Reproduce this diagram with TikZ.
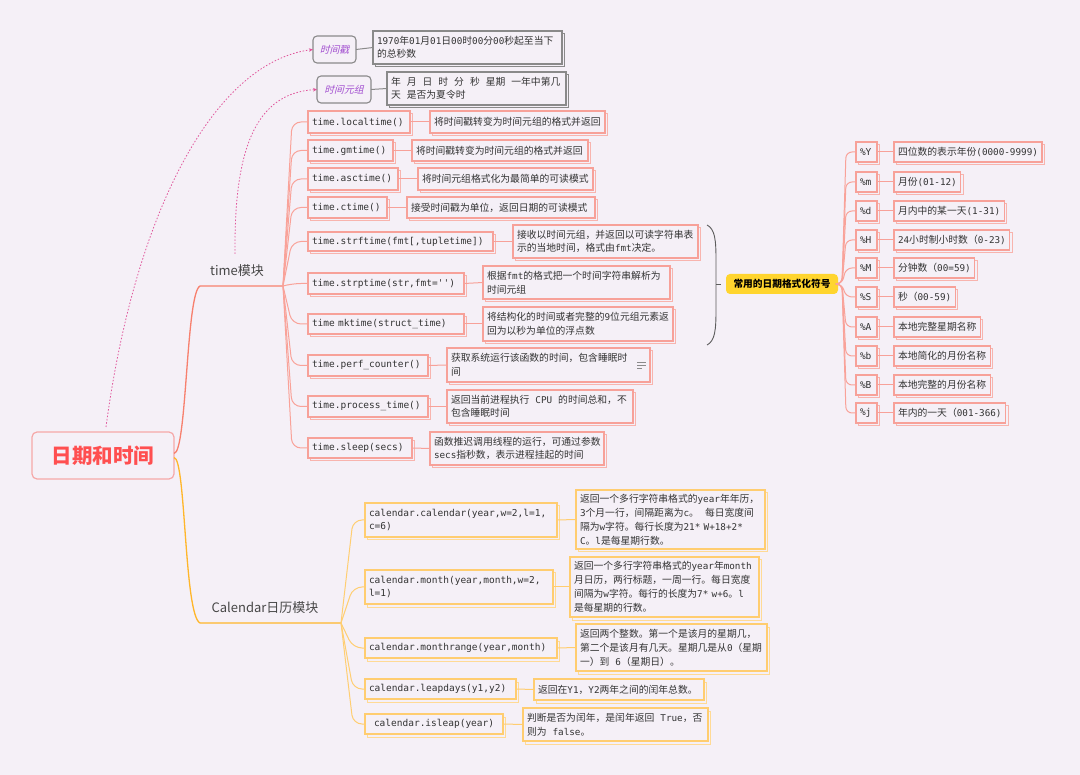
\documentclass[tikz,border=0pt]{standalone}
\usepackage{fontspec}
\setmainfont{Noto Sans CJK SC}
\setmonofont{DejaVu Sans Mono}
\newfontfamily\slantfont[FakeSlant=0.25]{Noto Sans CJK SC}
\usetikzlibrary{arrows.meta}
\definecolor{bg}{HTML}{F5F0F7}
\definecolor{txt}{HTML}{333333}
\definecolor{rline}{HTML}{F7806E}
\definecolor{rfan}{HTML}{F9A299}
\definecolor{rbox}{HTML}{F7A199}
\definecolor{rshad}{HTML}{F8B4AE}
\definecolor{yline}{HTML}{FFB62A}
\definecolor{yfan}{HTML}{FFCE72}
\definecolor{ybox}{HTML}{FFCD70}
\definecolor{yshad}{HTML}{FFDA95}
\definecolor{pinkd}{HTML}{E0559B}
\definecolor{purp}{HTML}{A24FD0}
\definecolor{grayb}{HTML}{8A8A8A}
\definecolor{gold}{HTML}{FFD52E}
\definecolor{mainred}{HTML}{FF4F50}
\definecolor{mainbd}{HTML}{F5A8A8}
\newcommand\mcode[1]{{\ttfamily\fontsize{9.3}{13.5}\selectfont #1}}
\newcommand\gapsp{\kern6pt\relax}
\def\shcol{none}
\def\bdcol{none}
\newcommand\mkshadow[1]{%
  \draw[draw=\shcol,line width=1pt] ([xshift=2.5pt]#1.south west) -- ([shift={(2.5pt,-3pt)}]#1.south west)
     -- ([shift={(2.5pt,-3pt)}]#1.south east) -- ([shift={(2.5pt,-3pt)}]#1.north east) -- ([yshift=-3pt]#1.north east);
  \draw[draw=\bdcol,line width=1.1pt] (#1.south west) rectangle (#1.north east);}
\newcommand\mkbox[7]{%
  \pgfmathsetmacro\mkw{#5-#3}%
  \pgfmathsetmacro\mkh{#6-#4}%
  \pgfmathsetmacro\mkt{#5-#3-8}%
  \pgfmathsetmacro\mky{(#4+#6)/2}%
  \node[anchor=west, minimum width=\mkw pt, minimum height=\mkh pt, text width=\mkt pt,
        inner xsep=4pt, inner ysep=1pt, outer sep=0pt, align=left, #2] (#1) at (#3,\mky) {#7};
  \mkshadow{#1}}
\begin{document}
\begin{tikzpicture}[x=1pt,y=-1pt,
  codebox/.style={fill=bg,text=txt,font=\ttfamily\fontsize{9.5}{13}\selectfont},
  descbox/.style={fill=bg,text=txt,font=\fontsize{9.8}{13.5}\selectfont},
  ccode/.style={fill=bg,text=txt,font=\ttfamily\fontsize{9.5}{13.5}\selectfont},
  cdesc/.style={fill=bg,text=txt,font=\fontsize{9.8}{14}\selectfont},
  fdesc/.style={fill=bg,minimum height=20pt,inner xsep=4pt,inner ysep=1pt,outer sep=0pt,
    text=txt,font=\fontsize{9.8}{13.5}\selectfont},
  tsbox/.style={draw=grayb,fill=bg,rounded corners=4pt,line width=1.1pt,align=center,
    font=\slantfont\fontsize{9.8}{12}\selectfont,text=purp},
  topdesc/.style={fill=bg,text=txt,font=\fontsize{9.8}{13.5}\selectfont},
  mainbox/.style={draw=mainbd,fill=bg,rounded corners=5pt,line width=1.2pt,align=center,
    font=\fontsize{20.5}{24}\selectfont\bfseries,text=mainred},
  fmtbox/.style={fill=gold,draw=none,rounded corners=4pt,align=center,
    font=\fontsize{9.7}{12}\selectfont\bfseries,text=black},
  lab/.style={font=\fontsize{13}{15}\selectfont,text=txt!90},
  rl/.style={draw=rbox,line width=1pt},
  tfanl/.style={draw=rfan,line width=1pt,rounded corners=9pt},
  cfanl/.style={draw=yfan,line width=1pt,rounded corners=9pt},
  yl/.style={draw=ybox,line width=1pt},
  dashl/.style={draw=pinkd,line width=0.8pt,dash pattern=on 1.5pt off 1.8pt,
    -{Stealth[length=4pt,width=3.5pt]}},
]
\fill[bg] (0,0) rectangle (1080,775);
\useasboundingbox (0,0) rectangle (1080,775);

% main node
\mkbox{main}{mainbox}{32}{432}{174}{479}{日期和时间}

% top nodes
\mkbox{tsa}{tsbox}{313}{36}{356}{63}{时间戳}
\mkbox{tup}{tsbox}{317}{76}{371}{103}{时间元组}
\def\shcol{grayb}\def\bdcol{grayb}
\mkbox{tsad}{topdesc}{373}{31}{562}{64}{\mcode{1970}年\mcode{01}月\mcode{01}日\mcode{00}时\mcode{00}分\mcode{00}秒起至当下\\的总秒数}
\mkbox{tupd}{topdesc}{387}{72}{566}{105}{年\gapsp 月\gapsp 日\gapsp 时\gapsp 分\gapsp 秒\gapsp 星期\gapsp 一年中第几\\天\gapsp 是否为夏令时}
\draw[draw=grayb,line width=1pt] (tsa.east) -- (tsad.west);
\draw[draw=grayb,line width=1pt] (tup.east) -- (tupd.west);

% time module
\node[lab] (tlab) at (237,271) {time模块};
\coordinate (tfan) at (283,286);
\draw[draw=rline,line width=1.3pt] ([yshift=2pt]main.east) .. controls (187,453) and (186,293) .. (200,286) -- (tfan);

\def\shcol{rshad}\def\bdcol{rbox}
\mkbox{tl}{codebox}{308}{111}{410}{133}{time.localtime()}
\mkbox{tld}{descbox}{430}{111}{605}{133}{将时间戳转变为时间元组的格式并返回}
\mkbox{tg}{codebox}{308}{140}{393}{161}{time.gmtime()}
\mkbox{tgd}{descbox}{412}{140}{588}{161}{将时间戳转变为时间元组的格式并返回}
\mkbox{ta}{codebox}{308}{168}{398}{190}{time.asctime()}
\mkbox{tad}{descbox}{418}{168}{593}{190}{将时间元组格式化为最简单的可读模式}
\mkbox{tc}{codebox}{308}{197}{387}{218}{time.ctime()}
\mkbox{tcd}{descbox}{407}{197}{595}{218}{接受时间戳为单位，返回日期的可读模式}
\mkbox{tf}{codebox}{308}{232}{493}{251}{time.strftime(fmt[,tupletime])}
\mkbox{tfd}{descbox}{513}{225}{698}{258}{接收以时间元组，并返回以可读字符串表\\示的当地时间，格式由\mcode{fmt}决定。}
\mkbox{tp}{codebox}{308}{273}{464}{294}{time.strptime(str,fmt='')}
\mkbox{tpd}{descbox}{483}{266}{670}{299}{根据\mcode{fmt}的格式把一个时间字符串解析为\\时间元组}
\mkbox{tm}{codebox}{308}{314}{464}{334}{time mktime(struct\_time)}
\mkbox{tmd}{descbox}{483}{307}{673}{341}{将结构化的时间或者完整的\mcode{9}位元组元素返\\回为以秒为单位的浮点数}
\mkbox{tpc}{codebox}{308}{355}{428}{376}{time.perf\_counter()}
\mkbox{tpcd}{descbox}{447}{348}{650}{382}{获取系统运行该函数的时间，包含睡眠时\\间}
\mkbox{tpt}{codebox}{308}{396}{428}{417}{time.process\_time()}
\mkbox{tptd}{descbox}{447}{390}{633}{423}{返回当前进程执行\gapsp\mcode{CPU}\gapsp 的时间总和，不\\包含睡眠时间}
\mkbox{ts}{codebox}{308}{438}{412}{458}{time.sleep(secs)}
\mkbox{tsd}{descbox}{430}{432}{604}{465}{函数推迟调用线程的运行，可通过参数\\\mcode{secs}指秒数，表示进程挂起的时间}

\foreach \n in {tl,tg,ta,tc,tf,tp,tm,tpc,tpt,ts}{
  \draw[tfanl] (tfan) -- ([xshift=-16pt]\n.west) -- (\n.west);
  \draw[rl] (\n.east) -- (\n d.west);
}
% note icon
\draw[draw=grayb,line width=0.8pt] (637,362.5) -- (646,362.5) (637,365.5) -- (646,365.5) (637,368.5) -- (642,368.5);

% dashed relations
\coordinate (tmstart) at (235,254);
\draw[dashl] ([xshift=3pt,yshift=5pt]main.north) .. controls (135,210) and (215,62) .. (tsa.west);
\draw[dashl] (tmstart) .. controls (234,150) and (255,93) .. (tup.west);

% summary brace
\coordinate (bracetip) at (721,284);
\draw[draw=txt!80,line width=0.9pt] (707,225) .. controls (715,229) and (716,240) .. (716,260) -- (716,310) .. controls (716,330) and (715,341) .. (707,345);
\draw[draw=txt!80,line width=0.9pt] (716,284) -- (bracetip);
\def\shcol{none}\def\bdcol{none}
\mkbox{fmt}{fmtbox}{726}{274}{838}{294}{常用的日期格式化符号}

% format codes
\def\shcol{rshad}\def\bdcol{rbox}
\foreach \n/\c/\y/\d in {fY/\%Y/152/{四位数的表示年份\mcode{(0000-9999)}},
                        fm/\%m/182/{月份\mcode{(01-12)}},
                        fd/\%d/211/{月内中的某一天\mcode{(1-31)}},
                        fH/\%H/240/{\mcode{24}小时制小时数（\mcode{0-23)}},
                        fM/\%M/268/{分钟数（\mcode{00=59)}},
                        fS/\%S/297/{秒（\mcode{00-59)}},
                        fA/\%A/327/{本地完整星期名称},
                        fb/\%b/356/{本地简化的月份名称},
                        fB/\%B/385/{本地完整的月份名称},
                        fj/\%j/413/{年内的一天（\mcode{001-366)}}}{
  \pgfmathsetmacro\ya{\y-10}\pgfmathsetmacro\yb{\y+10}
  \mkbox{\n}{codebox}{856}{\ya}{877}{\yb}{\c}
  \node[fdesc,anchor=west] (\n d) at (894,\y) {\d};
  \mkshadow{\n d}
  \draw[draw=rfan,line width=1pt,rounded corners=6pt] (fmt.east) -- ++(4,0) -- ([xshift=-10pt]\n.west) -- (\n.west);
  \draw[rl] (\n.east) -- (\n d.west);
}

% calendar module
\node[lab] (clab) at (265,608) {Calendar日历模块};
\coordinate (cfan) at (341,623);
\draw[draw=yline,line width=1.3pt] ([yshift=-2pt]main.east) .. controls (186,458) and (184,615) .. (200,623) -- (cfan);

\def\shcol{yshad}\def\bdcol{ybox}
\mkbox{c1}{ccode}{365}{503}{557}{537}{calendar.calendar(year,w=2,l=1,\\c=6)}
\mkbox{c1d}{cdesc}{576}{490}{765}{549}{返回一个多行字符串格式的\mcode{year}年年历，\\\mcode{3}个月一行，间隔距离为\mcode{c}。\gapsp 每日宽度间\\隔为\mcode{w}字符。每行长度为\mcode{21*~W+18+2*}\\\mcode{C}。\mcode{l}是每星期行数。}
\mkbox{c2}{ccode}{365}{570}{553}{604}{calendar.month(year,month,w=2,\\l=1)}
\mkbox{c2d}{cdesc}{570}{557}{759}{617}{返回一个多行字符串格式的\mcode{year}年\mcode{month}\\月日历，两行标题，一周一行。每日宽度\\间隔为\mcode{w}字符。每行的长度为\mcode{7*~w+6}。\mcode{l}\\是每星期的行数。}
\mkbox{c3}{ccode}{365}{638}{557}{658}{calendar.monthrange(year,month)}
\mkbox{c3d}{cdesc}{576}{624}{767}{671}{返回两个整数。第一个是该月的星期几，\\第二个是该月有几天。星期几是从\mcode{0}（星期\\一）到\gapsp\mcode{6}（星期日）。}
\mkbox{c4}{ccode}{365}{679}{516}{699}{calendar.leapdays(y1,y2)}
\mkbox{c4d}{cdesc}{534}{679}{704}{700}{返回在\mcode{Y1}，\mcode{Y2}两年之间的闰年总数。}
\mkbox{c5}{ccode}{365}{714}{503}{734}{\kern5pt calendar.isleap(year)}
\mkbox{c5d}{cdesc}{523}{708}{708}{741}{判断是否为闰年，是闰年返回\gapsp\mcode{True}，否\\则为\gapsp\mcode{false}。}

\foreach \n in {c1,c2,c3,c4,c5}{
  \draw[cfanl] (cfan) -- ([xshift=-12pt]\n.west) -- (\n.west);
  \draw[yl] (\n.east) -- (\n d.west);
}
\end{tikzpicture}
\end{document}
